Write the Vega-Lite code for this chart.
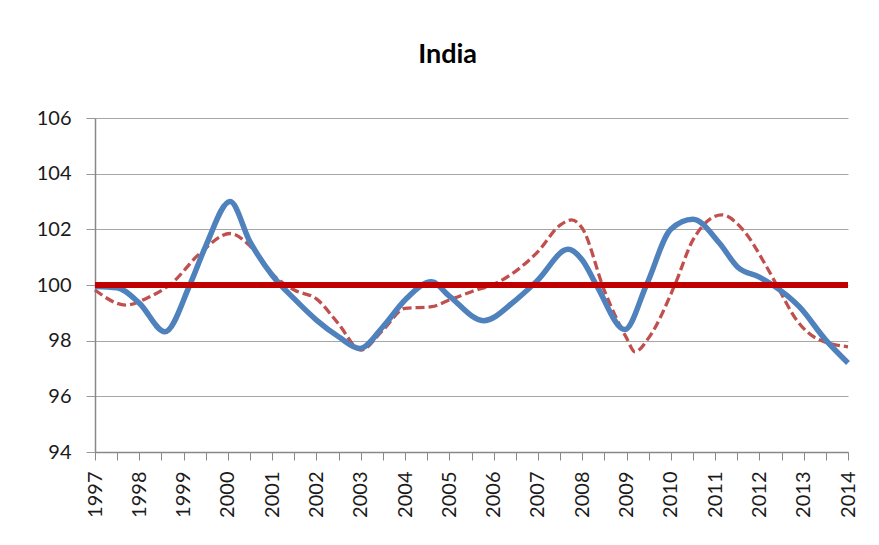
{
  "$schema": "https://vega.github.io/schema/vega-lite/v6.json",
  "autosize": "none",
  "width": 753,
  "height": 334,
  "padding": {"left": 95, "top": 118, "right": 31, "bottom": 93},
  "background": "white",
  "title": {"text": "India", "font": "Lato", "fontSize": 27, "fontWeight": "bold", "color": "#000000", "anchor": "middle", "frame": "bounds", "baseline": "alphabetic", "offset": 18},
  "config": {"view": {"stroke": null}},
  "data": {"values": [
    {"year": 1997.0, "series": "Index", "value": 99.95},
    {"year": 1997.5, "series": "Index", "value": 99.9},
    {"year": 1998.0, "series": "Index", "value": 99.35},
    {"year": 1998.58, "series": "Index", "value": 98.32},
    {"year": 1999.14, "series": "Index", "value": 100.0},
    {"year": 1999.5, "series": "Index", "value": 101.4},
    {"year": 2000.05, "series": "Index", "value": 103.0},
    {"year": 2000.5, "series": "Index", "value": 101.55},
    {"year": 2001.0, "series": "Index", "value": 100.35},
    {"year": 2001.5, "series": "Index", "value": 99.5},
    {"year": 2002.0, "series": "Index", "value": 98.74},
    {"year": 2002.5, "series": "Index", "value": 98.14},
    {"year": 2002.98, "series": "Index", "value": 97.72},
    {"year": 2003.5, "series": "Index", "value": 98.5},
    {"year": 2004.0, "series": "Index", "value": 99.46},
    {"year": 2004.6, "series": "Index", "value": 100.12},
    {"year": 2005.0, "series": "Index", "value": 99.6},
    {"year": 2005.77, "series": "Index", "value": 98.72},
    {"year": 2006.5, "series": "Index", "value": 99.46},
    {"year": 2007.0, "series": "Index", "value": 100.18},
    {"year": 2007.68, "series": "Index", "value": 101.28},
    {"year": 2008.0, "series": "Index", "value": 100.9},
    {"year": 2008.32, "series": "Index", "value": 100.0},
    {"year": 2008.96, "series": "Index", "value": 98.4},
    {"year": 2009.45, "series": "Index", "value": 100.0},
    {"year": 2010.0, "series": "Index", "value": 102.0},
    {"year": 2010.5, "series": "Index", "value": 102.36},
    {"year": 2011.1, "series": "Index", "value": 101.5},
    {"year": 2011.5, "series": "Index", "value": 100.66},
    {"year": 2012.0, "series": "Index", "value": 100.28},
    {"year": 2012.3, "series": "Index", "value": 100.0},
    {"year": 2012.9, "series": "Index", "value": 99.22},
    {"year": 2013.5, "series": "Index", "value": 98.02},
    {"year": 2014.0, "series": "Index", "value": 97.2},
    {"year": 1997.0, "series": "Fitted", "value": 99.82},
    {"year": 1997.7, "series": "Fitted", "value": 99.28},
    {"year": 1998.2, "series": "Fitted", "value": 99.55},
    {"year": 1998.73, "series": "Fitted", "value": 100.06},
    {"year": 1999.37, "series": "Fitted", "value": 101.14},
    {"year": 2000.05, "series": "Fitted", "value": 101.85},
    {"year": 2000.5, "series": "Fitted", "value": 101.4},
    {"year": 2001.0, "series": "Fitted", "value": 100.4},
    {"year": 2001.5, "series": "Fitted", "value": 99.82},
    {"year": 2002.0, "series": "Fitted", "value": 99.5},
    {"year": 2002.5, "series": "Fitted", "value": 98.6},
    {"year": 2003.0, "series": "Fitted", "value": 97.66},
    {"year": 2003.5, "series": "Fitted", "value": 98.38},
    {"year": 2004.0, "series": "Fitted", "value": 99.16},
    {"year": 2004.6, "series": "Fitted", "value": 99.22},
    {"year": 2005.0, "series": "Fitted", "value": 99.46},
    {"year": 2005.5, "series": "Fitted", "value": 99.76},
    {"year": 2006.1, "series": "Fitted", "value": 100.1},
    {"year": 2006.5, "series": "Fitted", "value": 100.5},
    {"year": 2007.0, "series": "Fitted", "value": 101.2},
    {"year": 2007.5, "series": "Fitted", "value": 102.15},
    {"year": 2007.76, "series": "Fitted", "value": 102.34},
    {"year": 2008.0, "series": "Fitted", "value": 102.04},
    {"year": 2008.5, "series": "Fitted", "value": 99.8},
    {"year": 2009.0, "series": "Fitted", "value": 98.1},
    {"year": 2009.19, "series": "Fitted", "value": 97.6},
    {"year": 2009.5, "series": "Fitted", "value": 98.1},
    {"year": 2010.09, "series": "Fitted", "value": 100.0},
    {"year": 2010.5, "series": "Fitted", "value": 101.62},
    {"year": 2011.15, "series": "Fitted", "value": 102.52},
    {"year": 2011.63, "series": "Fitted", "value": 101.98},
    {"year": 2012.16, "series": "Fitted", "value": 100.66},
    {"year": 2012.39, "series": "Fitted", "value": 100.0},
    {"year": 2012.84, "series": "Fitted", "value": 98.74},
    {"year": 2013.29, "series": "Fitted", "value": 98.08},
    {"year": 2014.0, "series": "Fitted", "value": 97.78}
  ]},
  "encoding": {
    "x": {
      "field": "year", "type": "quantitative",
      "scale": {"domain": [1997, 2014], "nice": false, "zero": false},
      "axis": {
        "title": null, "grid": false,
        "values": [1997,1997.5,1998,1998.5,1999,1999.5,2000,2000.5,2001,2001.5,2002,2002.5,2003,2003.5,2004,2004.5,2005,2005.5,2006,2006.5,2007,2007.5,2008,2008.5,2009,2009.5,2010,2010.5,2011,2011.5,2012,2012.5,2013,2013.5,2014],
        "labelExpr": "datum.value % 1 == 0 ? format(datum.value, 'd') : ''",
        "labelAngle": -90, "labelAlign": "right", "labelBaseline": "middle",
        "labelFont": "Lato", "labelFontSize": 20, "labelColor": "#1a1a1a",
        "labelPadding": 11, "labelOverlap": false, "labelFlush": false,
        "tickSize": 8, "tickColor": "#888888", "domainColor": "#888888", "domainWidth": 1.5
      }
    },
    "y": {
      "field": "value", "type": "quantitative",
      "scale": {"domain": [94, 106], "nice": false, "zero": false},
      "axis": {
        "title": null, "values": [94, 96, 98, 100, 102, 104, 106],
        "labelFont": "Lato", "labelFontSize": 20, "labelColor": "#1a1a1a",
        "labelPadding": 15, "tickSize": 9, "tickColor": "#999999",
        "domainColor": "#888888", "domainWidth": 1.5,
        "gridColor": "#a6a6a6", "gridWidth": 1.2
      }
    }
  },
  "layer": [
    {
      "transform": [{"filter": "datum.series == 'Fitted'"}],
      "mark": {"type": "line", "interpolate": "monotone", "color": "#C0504D", "strokeWidth": 3.3, "strokeDash": [9, 4]}
    },
    {
      "transform": [{"filter": "datum.series == 'Index'"}],
      "mark": {"type": "line", "interpolate": "monotone", "color": "#4F81BD", "strokeWidth": 5.5}
    },
    {
      "mark": {"type": "rule", "color": "#C00000", "strokeWidth": 5.5},
      "encoding": {"x": null, "y": {"datum": 100}}
    }
  ]
}
